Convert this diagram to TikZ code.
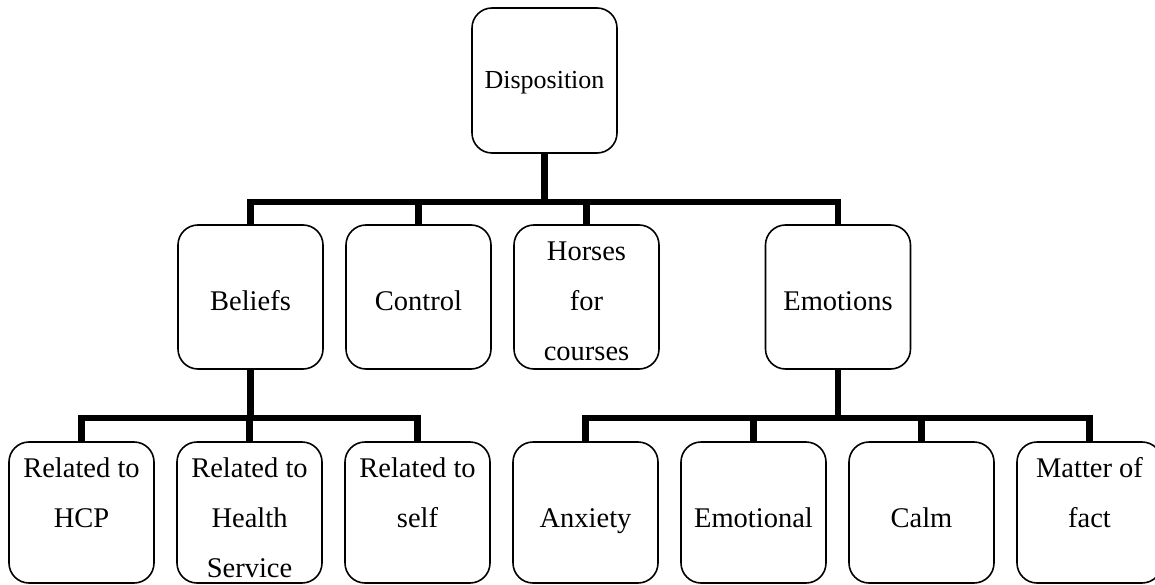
\documentclass[tikz,border=0pt]{standalone}
\usepackage{fontspec}
\setmainfont{Liberation Serif}
\usetikzlibrary{positioning}

\begin{document}
\begin{tikzpicture}[
    node distance=168pt,
    box/.style={draw, line width=1.6pt, rounded corners=20pt, align=center, inner sep=0pt, minimum width=145pt, text height=85pt, text depth=59pt, font=\fontsize{28.5}{50}\selectfont},
    leaf/.style={box, text depth=56pt},
    wrap/.style={text height=135pt, text depth=#1},
    branch/.style={line width=6.5pt}
]
\useasboundingbox (0,0) rectangle (1155pt,-585pt);

% Top of the tree
\node[box, text height=81pt, text depth=64pt, font=\fontsize{26}{50}\selectfont] (disp) at (544.5pt,-80.5pt) {Disposition};

% Second row
\node[box, below of=disp, yshift=-48.5pt, xshift=-294pt] (beliefs) {Beliefs};
\node[box, right of=beliefs] (control) {Control};
\node[box, wrap=9pt, right of=control] (horses) {Horses\\for\\courses};
\node[box, below of=disp, yshift=-48.5pt, xshift=293.5pt] (emotions) {Emotions};

% Bottom row
\node[leaf, below of=beliefs, yshift=-47.5pt, xshift=-169pt] (hcp) {Related to\\HCP};
\node[leaf, wrap=6pt, right of=hcp] (health) {Related to\\Health\\Service};
\node[leaf, right of=health] (self) {Related to\\self};
\node[leaf, right of=self] (anxiety) {Anxiety};
\node[leaf, right of=anxiety] (emotional) {Emotional};
\node[leaf, right of=emotional] (calm) {Calm};
\node[leaf, right of=calm] (matter) {Matter of\\fact};

% Branches
\foreach \kid in {beliefs,control,horses,emotions}
  \draw[branch] (disp.south) -- ++(0,-48pt) -| (\kid.north);
\foreach \kid in {hcp,health,self}
  \draw[branch] (beliefs.south) -- ++(0,-48pt) -| (\kid.north);
\foreach \kid in {anxiety,emotional,calm,matter}
  \draw[branch] (emotions.south) -- ++(0,-48pt) -| (\kid.north);

\end{tikzpicture}
\end{document}
